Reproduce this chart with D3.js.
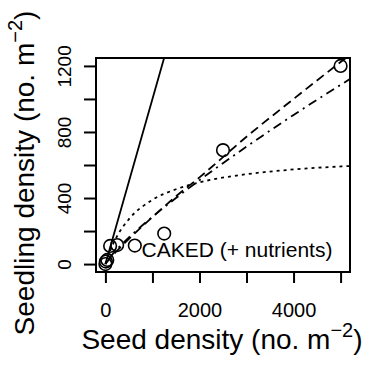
<!DOCTYPE html>
<html>
<head>
<meta charset="UTF-8">
<script src="https://d3js.org/d3.v7.min.js"></script>
<style>
  body { margin: 0; background: #fff; }
  svg text { font-family: "Liberation Sans", Arial, sans-serif; fill: #000; }
</style>
</head>
<body>
<svg id="chart" width="369" height="367"></svg>
<script>
// observed seed / seedling densities
var seedDensity = [0, 10, 40, 100, 250, 625, 1250, 2500, 5000];
var seedlingDensity = [0, 15, 25, 110, 115, 112, 185, 690, 1200];

// fitted curves, values
var curveX = [0, 100, 250, 500, 1000, 1500, 2000, 3000, 4000, 5200];
var oneToOne = [0, 100, 250, 500, 1000, 1500, 2000, 3000, 4000, 5200];
var dashedFit = [0, 36, 81, 152, 285, 410, 525, 771, 1000, 1268];
var dashDotFit = [0, 42, 90, 161, 286, 400, 508, 711, 903, 1121];
var dottedFit = [0, 80, 170, 272, 389, 453, 495, 544, 573, 594];

var xTicks = [0, 1000, 2000, 3000, 4000, 5000];
var xLabels = [0, 2000, 4000];
var yTicks = [0, 200, 400, 600, 800, 1000, 1200];
var yLabels = [0, 400, 800, 1200];

var svg = d3.select("#chart");
var mLeft = 96, mRight = 350, mTop = 58, mBottom = 272;

var x = d3.scaleLinear().domain([-200, 5200]).range([mLeft, mRight]);
var y = d3.scaleLinear().domain([-48, 1248]).range([mBottom, mTop]);

svg.append("clipPath").attr("id", "plotclip")
  .append("rect")
    .attr("x", mLeft).attr("y", mTop)
    .attr("width", mRight - mLeft).attr("height", mBottom - mTop);

var plot = svg.append("g").attr("clip-path", "url(#plotclip)");

var line = d3.line()
  .x(d => x(d[0]))
  .y(d => y(d[1]))
  .curve(d3.curveMonotoneX);

function drawFit(vals, dash) {
  plot.append("path")
    .datum(curveX.map((v, i) => [v, vals[i]]))
    .attr("d", line)
    .attr("fill", "none")
    .attr("stroke", "#000")
    .attr("stroke-width", 1.8)
    .attr("stroke-dasharray", dash);
}

drawFit(oneToOne, null);
drawFit(dashedFit, "9,5");
drawFit(dashDotFit, "2,5,9,5");
drawFit(dottedFit, "3,4");

plot.selectAll("circle.pt")
  .data(seedDensity.map((v, i) => [v, seedlingDensity[i]]))
  .enter()
  .append("circle")
    .attr("class", "pt")
    .attr("cx", d => x(d[0]))
    .attr("cy", d => y(d[1]))
    .attr("r", 6.3)
    .attr("fill", "none")
    .attr("stroke", "#000")
    .attr("stroke-width", 1.6);

// box
svg.append("rect")
  .attr("x", mLeft).attr("y", mTop)
  .attr("width", mRight - mLeft).attr("height", mBottom - mTop)
  .attr("fill", "none").attr("stroke", "#000").attr("stroke-width", 2);

// x axis
var xAxis = svg.append("g")
  .attr("transform", `translate(0,${mBottom})`)
  .call(d3.axisBottom(x).tickValues(xTicks).tickSize(11)
    .tickFormat(d => xLabels.indexOf(d) >= 0 ? d : ""));
xAxis.select(".domain").remove();
xAxis.selectAll("line").attr("stroke-width", 2);
xAxis.selectAll("text")
  .attr("y", 0).attr("dy", null)
  .attr("transform", "translate(0,45)")
  .style("font-size", "20px");

// y axis
var yAxis = svg.append("g")
  .attr("transform", `translate(${mLeft},0)`)
  .call(d3.axisLeft(y).tickValues(yTicks).tickSize(12)
    .tickFormat(d => yLabels.indexOf(d) >= 0 ? d : ""));
yAxis.select(".domain").remove();
yAxis.selectAll("line").attr("stroke-width", 2);
yAxis.selectAll("text")
  .attr("x", null).attr("dy", null).attr("y", null)
  .attr("text-anchor", "middle")
  .attr("transform", "translate(-25,0) rotate(-90)")
  .style("font-size", "19px");

// label inside plot
svg.append("text")
  .attr("x", 237).attr("y", 256.5)
  .attr("text-anchor", "middle")
  .style("font-size", "21px")
  .text("CAKED (+ nutrients)");

// axis titles
var xt = svg.append("text")
  .attr("x", 222).attr("y", 349)
  .attr("text-anchor", "middle")
  .style("font-size", "28px");
xt.append("tspan").text("Seed density (no. m");
xt.append("tspan").attr("dy", -12).style("font-size", "20px").text("\u22122");
xt.append("tspan").attr("dy", 12).text(")");

var yt = svg.append("text")
  .attr("transform", "translate(34,173) rotate(-90)")
  .attr("text-anchor", "middle")
  .style("font-size", "28px");
yt.append("tspan").text("Seedling density (no.  m");
yt.append("tspan").attr("dy", -12).style("font-size", "20px").text("\u22122");
yt.append("tspan").attr("dy", 12).text(")");
</script>
</body>
</html>
